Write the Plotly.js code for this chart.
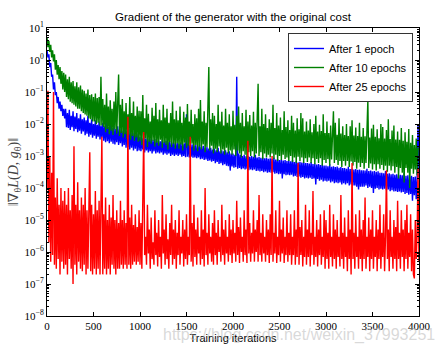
<!DOCTYPE html>
<html>
<head>
<meta charset="utf-8">
<script src="https://cdn.plot.ly/plotly-3.0.1.min.js"></script>
<style>
html, body { margin: 0; padding: 0; background: #fff; }
#chart { width: 446px; height: 354px; }
</style>
</head>
<body>
<div id="chart"></div>
<script>
// sampling interval of the read-off points (training iterations)
const STEP = 10;

const seriesNames = ["After 1 epoch", "After 10 epochs", "After 25 epochs"];

// After 1 epoch (blue) – one row = 200 iterations
const blue = [
  2.0, 1.2, 1.5, 0.6, 0.8, 0.3, 0.35, 0.12, 0.2, 0.08, 0.1, 0.045, 0.07, 0.03, 0.05, 0.025, 0.04, 0.018, 0.03, 0.015,
  0.03, 0.008, 0.022, 0.0075, 0.028, 0.0065, 0.018, 0.008, 0.025, 0.006, 0.017, 0.007, 0.022, 0.0055, 0.015, 0.0062, 0.02, 0.005, 0.014, 0.0058,
  0.016, 0.0045, 0.013, 0.005, 0.018, 0.004, 0.011, 0.0046, 0.014, 0.0037, 0.01, 0.0043, 0.013, 0.0035, 0.0095, 0.004, 0.012, 0.0033, 0.009, 0.0038,
  0.011, 0.003, 0.0085, 0.0027, 0.012, 0.0029, 0.008, 0.0025, 0.0095, 0.0028, 0.0075, 0.0024, 0.009, 0.0023, 0.007, 0.0027, 0.0085, 0.0022, 0.0068, 0.0025,
  0.0075, 0.002, 0.0062, 0.0022, 0.008, 0.0018, 0.006, 0.0019, 0.0068, 0.0016, 0.0055, 0.0018, 0.0062, 0.0015, 0.0052, 0.0017, 0.0058, 0.0014, 0.005, 0.0015,
  0.004, 0.0014, 0.0036, 0.0016, 0.0042, 0.0013, 0.0035, 0.0015, 0.0037, 0.0013, 0.0033, 0.0014, 0.0036, 0.0012, 0.0032, 0.0014, 0.0034, 0.0012, 0.003, 0.0013,
  0.0031, 0.0012, 0.0029, 0.0013, 0.0033, 0.0011, 0.0028, 0.0012, 0.003, 0.0011, 0.0027, 0.0012, 0.0029, 0.001, 0.0026, 0.0011, 0.0028, 0.001, 0.0025, 0.0011,
  0.0026, 0.001, 0.0024, 0.0011, 0.0027, 0.00095, 0.0023, 0.001, 0.0025, 0.00092, 0.02, 0.00095, 0.0024, 0.0009, 0.0022, 0.00095, 0.0023, 0.00088, 0.0021, 0.0009,
  0.0022, 0.00085, 0.002, 0.0009, 0.0023, 0.0008, 0.0019, 0.00082, 0.0021, 0.00075, 0.0018, 0.00078, 0.0019, 0.0007, 0.0017, 0.00072, 0.0018, 0.00066, 0.0016, 0.0007,
  0.0017, 0.0006, 0.0015, 0.00065, 0.0018, 0.00056, 0.0014, 0.0006, 0.0015, 0.00052, 0.0014, 0.00055, 0.0015, 0.0005, 0.0013, 0.00048, 0.0014, 0.00035, 0.0012, 0.00047,
  0.0012, 0.00043, 0.0011, 0.00045, 0.3, 0.0004, 0.0012, 0.00042, 0.0011, 0.00039, 0.001, 0.00041, 0.0011, 0.00038, 0.00098, 0.0004, 0.001, 0.00036, 0.00095, 0.00038,
  0.001, 0.00036, 0.00095, 0.00038, 0.0011, 0.00034, 0.0009, 0.00035, 0.00095, 0.00033, 0.00088, 0.00034, 0.0009, 0.00031, 0.00085, 0.00033, 0.00088, 0.0003, 0.00082, 0.00031,
  0.00085, 0.0003, 0.0008, 0.00031, 0.0009, 0.00028, 0.00078, 0.00029, 0.0008, 0.00027, 0.00075, 0.00028, 0.00078, 0.0002, 0.00072, 0.00027, 0.00075, 0.00025, 0.0007, 0.00026,
  0.00072, 0.00025, 0.00068, 0.00026, 0.00075, 0.00023, 0.00065, 0.00024, 0.00068, 0.00022, 0.00063, 0.00023, 0.00066, 0.00021, 0.00062, 0.00022, 0.00064, 0.0002, 0.0006, 0.00021,
  0.0006, 0.0002, 0.00058, 0.00021, 0.00065, 0.00019, 0.00056, 0.0002, 0.00058, 0.00013, 0.00054, 0.00019, 0.00056, 0.00017, 0.00052, 0.00018, 0.00054, 0.00016, 0.0005, 0.00017,
  0.0005, 0.00016, 0.00048, 0.00017, 0.00055, 0.00015, 0.00046, 0.00016, 0.00048, 0.00014, 0.00045, 0.00015, 0.00047, 0.00014, 0.00043, 0.00015, 0.00045, 0.00013, 0.00042, 0.00014,
  0.00042, 0.00013, 0.0004, 0.00014, 0.00046, 0.00012, 0.00039, 0.00013, 0.0004, 0.00012, 0.00038, 0.00012, 0.00039, 0.00011, 0.00037, 0.00009, 0.00038, 0.00011, 0.00036, 0.00011,
  0.00036, 0.00011, 0.00035, 0.00012, 0.0004, 0.0001, 0.00034, 0.00011, 0.00035, 0.0001, 0.00033, 0.00007, 0.00034, 0.000095, 0.00032, 0.0001, 0.00033, 0.00009, 0.0003, 0.000095,
  0.0003, 0.00009, 0.00029, 0.000095, 0.00034, 0.000085, 0.00028, 0.00009, 0.00029, 0.00008, 0.00027, 0.000085, 0.00028, 0.000078, 0.00026, 0.00008, 0.00027, 0.000075, 0.00025, 0.000078,
  0.00026, 0.000072, 0.00025, 0.000075, 0.00029, 0.000065, 0.00024, 0.00007, 0.00025, 0.000062, 0.00023, 0.000065, 0.00024, 0.00004, 0.00022, 0.00006, 0.00023, 0.000045, 0.00021, 0.01,
  0.00022
];

// After 10 epochs (green)
const green = [
  5.0, 2.5, 4.0, 1.8, 3.0, 1.2, 2.0, 0.9, 1.5, 0.5, 1.0, 0.35, 0.7, 0.25, 0.6, 0.18, 0.45, 0.12, 0.4, 0.1,
  0.35, 0.07, 0.25, 0.06, 0.3, 0.05, 0.2, 0.045, 0.22, 0.04, 0.15, 0.035, 0.2, 0.03, 0.14, 0.03, 0.16, 0.025, 0.12, 0.022,
  0.11, 0.02, 0.09, 0.018, 0.12, 0.015, 0.08, 0.014, 0.085, 0.012, 0.07, 0.012, 0.09, 0.01, 0.065, 0.011, 0.07, 0.009, 0.3, 0.009,
  0.06, 0.008, 0.04, 0.0055, 0.09, 0.007, 0.035, 0.0048, 0.055, 0.0062, 0.03, 0.0045, 0.05, 0.0068, 0.1, 0.005, 0.045, 0.35, 0.0042, 0.04,
  0.0052, 0.06, 0.0038, 0.025, 0.0048, 0.045, 0.0034, 0.02, 0.0045, 0.07, 0.0032, 0.022, 0.0042, 0.05, 0.003, 0.018, 0.0038, 0.035, 0.0028, 0.026,
  0.003, 0.025, 0.0022, 0.08, 0.0028, 0.015, 0.0035, 0.04, 0.0019, 0.021, 0.0028, 0.012, 0.0024, 0.032, 0.003, 0.018, 0.002, 0.045, 0.0026, 0.014,
  0.0021, 0.028, 0.0032, 0.013, 0.0018, 0.04, 0.0026, 0.016, 0.0022, 0.03, 0.0016, 0.011, 0.0027, 0.022, 0.0019, 0.05, 0.0024, 0.014, 0.0017, 0.026,
  0.0025, 0.013, 0.0017, 0.035, 0.0023, 0.011, 0.0015, 0.024, 0.0026, 0.016, 0.0018, 0.042, 0.0021, 0.012, 0.0016, 0.028, 0.0024, 0.01, 0.0015, 0.02,
  0.0022, 0.015, 0.0014, 0.03, 0.002, 0.056, 0.0016, 0.012, 0.0023, 0.025, 0.0013, 0.011, 0.0019, 0.035, 0.6, 0.0015, 0.014, 0.0021, 0.022, 0.0012,
  0.018, 0.0017, 0.01, 0.0013, 0.04, 0.002, 0.012, 0.0012, 0.024, 0.0016, 0.009, 0.0011, 0.03, 0.0018, 0.011, 0.0012, 0.02, 0.0015, 0.0085, 0.0011,
  0.026, 0.0016, 0.0095, 0.001, 0.018, 0.0015, 0.035, 0.0012, 0.011, 0.0009, 0.022, 0.0014, 0.0085, 0.0011, 0.028, 0.0008, 0.012, 0.0013, 0.019, 0.001,
  0.009, 0.0014, 0.024, 0.0009, 0.011, 0.0012, 0.016, 0.18, 0.001, 0.0085, 0.0013, 0.03, 0.0008, 0.01, 0.0012, 0.02, 0.0009, 0.0075, 0.0011, 0.014,
  0.0009, 0.011, 0.0012, 0.04, 0.0008, 0.0075, 0.0011, 0.022, 0.0007, 0.009, 0.001, 0.016, 0.00075, 0.0065, 0.0011, 0.025, 0.0008, 0.008, 0.0009, 0.013,
  0.0007, 0.0065, 0.001, 0.018, 0.00065, 0.011, 0.0009, 0.0062, 0.0006, 0.015, 0.00095, 0.0068, 0.0007, 0.022, 0.0009, 0.015, 0.0006, 0.0058, 0.00085, 0.012,
  0.00065, 0.0062, 0.0009, 0.014, 0.0006, 0.0055, 0.00085, 0.01, 0.00055, 0.018, 0.0008, 0.0058, 0.0006, 0.0095, 0.00085, 0.006, 0.0005, 0.02, 0.00075, 0.0052,
  0.0006, 0.012, 0.0008, 0.0052, 0.0005, 0.009, 0.00078, 0.0048, 0.025, 0.0006, 0.011, 0.00075, 0.0046, 0.00052, 0.015, 0.0007, 0.005, 0.00045, 0.0085, 0.0007,
  0.0045, 0.0005, 0.01, 0.0007, 0.0042, 0.00045, 0.0085, 0.00068, 0.013, 0.0005, 0.0044, 0.00065, 0.0078, 0.0004, 0.0042, 0.00062, 0.011, 0.00045, 0.004, 0.0006,
  0.0075, 0.0004, 0.0041, 0.0006, 0.012, 0.056, 0.00042, 0.0038, 0.00058, 0.0072, 0.00038, 0.0095, 0.00055, 0.004, 0.00035, 0.0068, 0.00055, 0.0036, 0.0004, 0.01,
  0.00052, 0.008, 0.00036, 0.0035, 0.0005, 0.0065, 0.00032, 0.014, 0.0005, 0.0034, 0.00035, 0.0062, 0.00048, 0.009, 0.0003, 0.0033, 0.00045, 0.0058, 0.0002, 0.0032,
  0.00042, 0.0075, 0.0003, 0.003, 0.00015, 0.0055, 0.00042, 0.0028, 0.0003, 0.007, 0.0001, 0.0026, 0.0004, 0.0045, 0.00028, 0.0022, 0.00038, 0.0035, 0.00025, 0.0018,
  0.0016
];

// After 25 epochs (red)
const red = [
  1e-4, 0.11, 2e-6, 1e-3, 5e-7, 3e-4, 8e-7, 0.1, 4e-7, 5e-5, 3e-7, 2e-4, 6e-7, 3e-5, 2e-7, 1e-4, 5e-7, 4e-5, 3e-7, 8e-5,
  4e-7, 3e-5, 2e-7, 1e-4, 6e-7, 2e-5, 3e-7, 6e-5, 1e-7, 2e-3, 4e-7, 3e-5, 2e-7, 1.5e-4, 5e-7, 2e-5, 3e-7, 5e-5, 2.5e-7, 3e-5,
  4e-7, 1e-4, 2e-7, 2e-5, 3e-7, 6e-5, 1.3e-3, 2.5e-7, 3e-5, 2e-7, 1.5e-5, 3e-7, 8e-5, 2e-7, 2e-5, 3e-7, 4e-5, 2e-7, 1.5e-5, 4e-3,
  2e-7, 1.5e-5, 3e-7, 5e-5, 2e-7, 1e-5, 3e-7, 3e-5, 2e-7, 1.2e-5, 4e-7, 6e-5, 3e-7, 1e-5, 2e-7, 2e-5, 3e-7, 8e-6, 3e-7, 4e-5,
  4e-7, 1e-5, 3e-7, 2e-5, 4e-7, 8e-6, 3e-7, 1.7e-2, 4e-7, 1.2e-5, 3e-7, 3e-5, 4e-7, 7e-6, 5e-7, 1.5e-5, 4e-7, 6e-6, 5e-7, 2e-5,
  4e-7, 8e-6, 3e-7, 1e-5, 5.6e-3, 8e-7, 3e-6, 4e-7, 3e-5, 9e-7, 5e-6, 3e-7, 1.2e-5, 6e-7, 2e-6, 4e-7, 2e-5, 8e-7, 4e-6, 3.5e-7,
  1e-5, 7e-7, 3e-6, 3e-7, 6e-5, 9e-7, 5e-6, 4e-7, 1.5e-5, 6e-7, 2.5e-6, 3e-7, 8e-6, 8e-7, 3e-5, 4e-7, 5e-6, 6e-7, 1e-5, 3e-7,
  4e-6, 8e-7, 2e-5, 4e-7, 3e-6, 9e-7, 1e-5, 3.5e-7, 5e-6, 6e-7, 1.5e-5, 4e-7, 3e-6, 8e-7, 4e-3, 5e-7, 8e-6, 3.5e-7, 3e-5, 7e-7,
  5e-6, 4e-7, 1.2e-5, 9e-7, 3e-6, 4e-7, 2e-5, 6e-7, 5e-6, 3.5e-7, 1e-4, 8e-7, 4e-6, 4e-7, 1.5e-5, 9e-7, 3e-6, 5e-7, 8e-6, 4e-7,
  2e-5, 8e-7, 4e-6, 4e-7, 1e-5, 1e-6, 3e-6, 5e-7, 3e-5, 8e-7, 5e-6, 4e-7, 1e-5, 9e-7, 3e-6, 5e-7, 1.5e-5, 8e-7, 5e-6, 4.5e-7,
  1e-5, 9e-7, 4e-6, 5e-7, 4e-5, 8e-7, 6e-6, 4.5e-7, 1.2e-5, 1e-6, 3e-6, 5e-7, 2e-5, 8e-7, 5e-6, 4.5e-7, 3e-3, 9e-7, 8e-6, 5e-7,
  4e-6, 9e-7, 2e-5, 5e-7, 5e-6, 1e-6, 1e-5, 5e-7, 6e-5, 8e-7, 4e-6, 5e-7, 1.5e-5, 9e-7, 3e-6, 5e-7, 1e-5, 8e-7, 5e-6, 4.5e-7,
  1.5e-5, 8e-7, 1e-3, 5e-7, 4e-6, 9e-7, 2e-5, 4.5e-7, 3e-6, 8e-7, 4e-5, 5e-7, 5e-6, 9e-7, 1.2e-5, 4.5e-7, 3e-6, 8e-7, 2e-5, 5e-7,
  4e-6, 8e-7, 1.5e-5, 4e-7, 3e-6, 8e-7, 2e-5, 4e-7, 5e-6, 7e-7, 6e-4, 4e-7, 6e-6, 8e-7, 1e-5, 3.5e-7, 3e-6, 7e-7, 3e-5, 4e-7,
  5e-6, 7e-7, 2e-5, 3.5e-7, 4e-6, 8e-7, 8e-5, 4e-7, 3e-6, 7e-7, 1e-5, 3.5e-7, 5e-6, 8e-7, 1.5e-5, 4e-7, 3e-6, 7e-7, 2e-5, 3e-7,
  1e-5, 6e-7, 4e-6, 3e-7, 3e-5, 7e-7, 3e-6, 3.5e-7, 1.5e-5, 6e-7, 5e-6, 3e-7, 1e-5, 7e-7, 3e-6, 3.5e-7, 6e-5, 6e-7, 4e-6, 3e-7,
  1.2e-5, 7e-7, 3e-6, 2.5e-7, 2e-5, 6e-7, 5e-6, 2e-7, 6e-4, 6e-7, 4e-6, 3e-7, 1.5e-5, 7e-7, 3e-6, 3e-7, 2e-5, 6e-7, 5e-6, 2.5e-7,
  1e-5, 6e-7, 5e-5, 3e-7, 3e-6, 7e-7, 1.2e-5, 2.5e-7, 5e-6, 6e-7, 2e-5, 3e-7, 3e-6, 7e-7, 1e-5, 2.5e-7, 5e-6, 6e-7, 3e-5, 3e-7,
  4e-6, 7e-7, 1.5e-5, 2.5e-7, 3e-6, 3.6e-4, 6e-7, 5e-6, 2.5e-7, 2e-5, 7e-7, 3e-6, 3e-7, 1e-5, 6e-7, 6e-6, 2.5e-7, 4e-5, 6e-7, 4e-6,
  3e-7, 2e-5, 7e-7, 5e-6, 2.5e-7, 1e-5, 6e-7, 3e-5, 3e-7, 4e-6, 7e-7, 1.5e-5, 2.5e-7, 5e-6, 2e-7, 1.5e-7, 1e-5, 6e-7, 4e-6, 4e-4,
  5e-7
];

const xTickVals = [0, 500, 1000, 1500, 2000, 2500, 3000, 3500, 4000];
const yTickExps = [-8, -7, -6, -5, -4, -3, -2, -1, 0, 1];

const iterations = blue.map((_, i) => i * STEP);
const colors = ["#0000ff", "#008000", "#ff0000"];
const allSeries = [blue, green, red];

const serif = "'Liberation Serif', 'DejaVu Serif', serif";
const sans = "'Liberation Sans', Arial, sans-serif";

const traces = allSeries.map((vals, k) => ({
  type: "scatter",
  mode: "lines",
  x: iterations,
  y: vals,
  name: seriesNames[k],
  line: { color: colors[k], width: 1.4 }
}));

const yTickVals = yTickExps.map(e => Math.pow(10, e));
const yTickText = yTickExps.map(e => "10<sup>" + (e < 0 ? "\u2212" : "") + Math.abs(e) + "</sup>");

const layout = {
  width: 446,
  height: 354,
  margin: { l: 47, r: 27, t: 28, b: 38, pad: 0 },
  paper_bgcolor: "#ffffff",
  plot_bgcolor: "#ffffff",
  title: {
    text: "Gradient of the generator with the original cost",
    font: { family: sans, size: 11.5, color: "#000" },
    x: 0.5, xref: "paper", xanchor: "center",
    y: 1 - 17 / 354, yanchor: "middle"
  },
  xaxis: {
    range: [0, 4000],
    tickmode: "array",
    tickvals: xTickVals,
    ticktext: xTickVals.map(String),
    ticks: "inside", ticklen: 4, tickwidth: 1, tickcolor: "#000",
    showline: true, linecolor: "#000", linewidth: 1, mirror: "ticks",
    showgrid: false, zeroline: false,
    tickfont: { family: serif, size: 11, color: "#000" },
    title: { text: "Training iterations", font: { family: sans, size: 11, color: "#000" }, standoff: 3 }
  },
  yaxis: {
    type: "log",
    range: [-8, 1],
    tickmode: "array",
    tickvals: yTickVals,
    ticktext: yTickText,
    ticks: "inside", ticklen: 4, tickwidth: 1, tickcolor: "#000",
    showline: true, linecolor: "#000", linewidth: 1, mirror: "ticks",
    showgrid: false, zeroline: false,
    minor: { ticks: "inside", ticklen: 2, tickcolor: "#000", dtick: "D1", showgrid: false },
    tickfont: { family: serif, size: 11, color: "#000" },
    title: {
      text: "\u2016\u2207<sub>\u03b8</sub><i>L</i>(<i>D</i>, <i>g</i><sub>\u03b8</sub>)\u2016",
      font: { family: serif, size: 14, color: "#444" },
      standoff: 2
    }
  },
  showlegend: true,
  legend: {
    x: (413 - 47) / 372, xanchor: "right",
    y: (316 - 33) / 288, yanchor: "top",
    bgcolor: "#ffffff", bordercolor: "#333", borderwidth: 1,
    font: { family: sans, size: 11, color: "#000" },
    tracegroupgap: 0
  },
  annotations: [{
    text: "https://blog.csdn.net/weixin_37993251",
    xref: "paper", yref: "paper",
    x: (437 - 47) / 372, xanchor: "right",
    y: (316 - 335) / 288, yanchor: "middle",
    showarrow: false,
    font: { family: sans, size: 16, color: "rgba(185,185,185,0.55)" }
  }]
};

Plotly.newPlot("chart", traces, layout, { displayModeBar: false, staticPlot: true });
</script>
</body>
</html>
